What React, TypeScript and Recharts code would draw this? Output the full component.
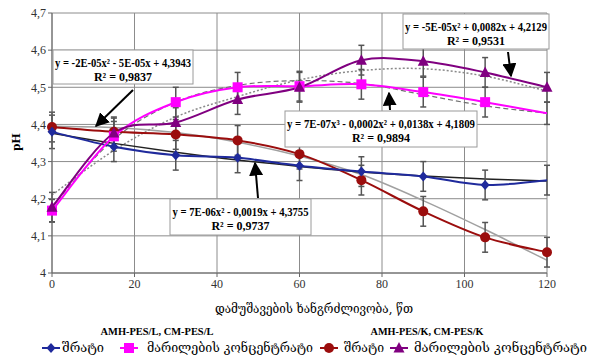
import React from "react"
import { LineChart, Line, XAxis, YAxis, CartesianGrid, ErrorBar } from "recharts"

// minutes of treatment
const MINUTES = [0, 15, 30, 45, 60, 75, 90, 105, 120]

// AMH-PES/L, CM-PES/L
const SYR_L = [4.38, 4.34, 4.317, 4.31, 4.289, 4.273, 4.26, 4.237, 4.25]
const CONC_L = [4.168, 4.368, 4.46, 4.5, 4.503, 4.508, 4.487, 4.46, 4.43]
// AMH-PES/K, CM-PES/K
const SYR_K = [4.393, 4.38, 4.373, 4.357, 4.32, 4.25, 4.166, 4.096, 4.056]
const CONC_K = [4.177, 4.377, 4.405, 4.467, 4.5, 4.573, 4.57, 4.54, 4.5]

// error bar half-lengths
const ERR_SYR_L = [0.045, 0.04, 0.04, 0.04, 0.04, 0.04, 0.04, 0.04, 0.04]
const ERR_CONC_L = [0.03, 0.04, 0.04, 0.04, 0.04, 0.04, 0.04, 0.04, 0.03]
const ERR_SYR_K = [0.04, 0.04, 0.04, 0.04, 0.04, 0.04, 0.04, 0.04, 0.04]
const ERR_CONC_K = [0.04, 0.04, 0.04, 0.04, 0.04, 0.04, 0.04, 0.04, 0.04]

// trend lines
const TREND_SYR_L = [4.376, 4.349, 4.325, 4.304, 4.287, 4.272, 4.261, 4.253, 4.248]
const TREND_SYR_K = [4.395, 4.392, 4.378, 4.352, 4.315, 4.265, 4.195, 4.117, 4.034]
const TREND_CONC_L = [4.18, 4.36, 4.46, 4.505, 4.518, 4.51, 4.48, 4.45, 4.43]
const TREND_CONC_K = [4.21, 4.33, 4.42, 4.475, 4.52, 4.545, 4.55, 4.53, 4.49]

const X_TICKS = [0, 20, 40, 60, 80, 100, 120]
const Y_TICKS = [4, 4.1, 4.2, 4.3, 4.4, 4.5, 4.6, 4.7]

const BLUE = "#1f2a9c"
const PINK = "#ff00ff"
const RED = "#9b0d0d"
const PURPLE = "#800080"

const rows = MINUTES.map((x, i) => ({
  x,
  syrL: SYR_L[i], concL: CONC_L[i], syrK: SYR_K[i], concK: CONC_K[i],
  eSyrL: ERR_SYR_L[i], eConcL: ERR_CONC_L[i], eSyrK: ERR_SYR_K[i], eConcK: ERR_CONC_K[i],
  tSyrL: TREND_SYR_L[i], tSyrK: TREND_SYR_K[i], tConcL: TREND_CONC_L[i], tConcK: TREND_CONC_K[i],
}))

// excel-like smoothed line (catmull-rom as bezier)
function smooth(ctx: any) {
  let pts: number[][] = []
  return {
    areaStart() {},
    areaEnd() {},
    lineStart() { pts = [] },
    point(x: number, y: number) { pts.push([+x, +y]) },
    lineEnd() {
      if (!pts.length) return
      ctx.moveTo(pts[0][0], pts[0][1])
      for (let i = 0; i < pts.length - 1; i++) {
        const p0 = pts[Math.max(i - 1, 0)]
        const p1 = pts[i]
        const p2 = pts[i + 1]
        const p3 = pts[Math.min(i + 2, pts.length - 1)]
        ctx.bezierCurveTo(
          p1[0] + (p2[0] - p0[0]) / 6, p1[1] + (p2[1] - p0[1]) / 6,
          p2[0] - (p3[0] - p1[0]) / 6, p2[1] - (p3[1] - p1[1]) / 6,
          p2[0], p2[1]
        )
      }
    },
  }
}

const serif = "'Liberation Serif', 'Times New Roman', serif"
const geo = "'DejaVu Serif', 'DejaVu Sans', serif"

function Marker({ kind, cx, cy }: any) {
  if (kind === "diamond")
    return <path d={`M${cx},${cy - 5}L${cx + 4.5},${cy}L${cx},${cy + 5}L${cx - 4.5},${cy}Z`} fill={BLUE} />
  if (kind === "square")
    return <rect x={cx - 5} y={cy - 5} width={10} height={10} fill={PINK} />
  if (kind === "circle")
    return <circle cx={cx} cy={cy} r={5} fill={RED} />
  return <path d={`M${cx},${cy - 6}L${cx + 5.5},${cy + 4.5}L${cx - 5.5},${cy + 4.5}Z`} fill={PURPLE} />
}

const dot = (kind: string, skipLast: boolean) => (p: any) => {
  if (skipLast && p.payload.x === 120) return <g key={p.index} />
  return <Marker key={p.index} kind={kind} cx={p.cx} cy={p.cy} />
}

const fmt = (v: number) => String(Math.round(v * 10) / 10).replace(".", ",")

function EqBox({ x, y, w, h, l1, l2, tl }: any) {
  const cx = x + w / 2
  return (
    <g>
      <rect x={x} y={y} width={w} height={h} fill="#fff" stroke="#9a9a9a" />
      <text x={cx} y={y + 17} textAnchor="middle" fontFamily={serif} fontWeight="bold" fontSize={12}
        textLength={tl} lengthAdjust="spacingAndGlyphs">{l1}</text>
      <text x={cx} y={y + 31} textAnchor="middle" fontFamily={serif} fontWeight="bold" fontSize={12}>{l2}</text>
    </g>
  )
}

function LegendIcon({ x, color, kind }: any) {
  return (
    <g>
      <line x1={x - 9} x2={x + 9} y1={348} y2={348} stroke={color} strokeWidth={2} />
      <Marker kind={kind} cx={x} cy={348} />
    </g>
  )
}

export default function App() {
  return (
    <div style={{ position: "absolute", left: 0, top: 0, width: 590, height: 360, background: "#fff" }}>
      <LineChart width={590} height={360} data={rows} margin={{ top: 13, right: 43, left: 0, bottom: 62 }}>
        <CartesianGrid stroke="#8c8c8c" />
        <XAxis dataKey="x" type="number" domain={[0, 120]} ticks={X_TICKS} height={25}
          tick={{ fontFamily: serif, fontSize: 12, fill: "#333" }} stroke="#666" tickSize={4} />
        <YAxis type="number" domain={[4, 4.7]} ticks={Y_TICKS} width={52} tickFormatter={fmt}
          tick={{ fontFamily: serif, fontSize: 12, fill: "#333" }} stroke="#666" tickSize={4} />

        <Line dataKey="tSyrK" type={smooth as any} stroke="#a0a0a0" strokeWidth={1.5} dot={false} isAnimationActive={false} />
        <Line dataKey="tConcL" type={smooth as any} stroke="#707070" strokeWidth={1.2} strokeDasharray="5 3" dot={false} isAnimationActive={false} />
        <Line dataKey="tConcK" type={smooth as any} stroke="#8a8a8a" strokeWidth={1.5} strokeDasharray="2 2" dot={false} isAnimationActive={false} />
        <Line dataKey="tSyrL" type={smooth as any} stroke="#222" strokeWidth={1.5} dot={false} isAnimationActive={false} />

        <Line dataKey="syrK" type={smooth as any} stroke={RED} strokeWidth={2} dot={dot("circle", false)} isAnimationActive={false}>
          <ErrorBar dataKey="eSyrK" direction="y" width={3} stroke="#555" />
        </Line>
        <Line dataKey="syrL" type={smooth as any} stroke={BLUE} strokeWidth={2} dot={dot("diamond", true)} isAnimationActive={false}>
          <ErrorBar dataKey="eSyrL" direction="y" width={3} stroke="#555" />
        </Line>
        <Line dataKey="concL" type={smooth as any} stroke={PINK} strokeWidth={2} dot={dot("square", true)} isAnimationActive={false}>
          <ErrorBar dataKey="eConcL" direction="y" width={3} stroke="#555" />
        </Line>
        <Line dataKey="concK" type={smooth as any} stroke={PURPLE} strokeWidth={2} dot={dot("triangle", false)} isAnimationActive={false}>
          <ErrorBar dataKey="eConcK" direction="y" width={3} stroke="#555" />
        </Line>
      </LineChart>

      <svg width={590} height={360} style={{ position: "absolute", left: 0, top: 0, pointerEvents: "none" }}>
        <defs>
          <marker id="ah" viewBox="0 0 10 10" refX="9" refY="5" markerWidth="7" markerHeight="7" orient="auto-start-reverse">
            <path d="M0,0L10,5L0,10Z" fill="#000" />
          </marker>
        </defs>

        <EqBox x={53} y={50} w={140} h={34} tl={136} l1="y = -2E-05x² - 5E-05x + 4,3943" l2="R² = 0,9837" />
        <EqBox x={403} y={14} w={146} h={35} tl={142} l1="y = -5E-05x² + 0,0082x + 4,2129" l2="R² = 0,9531" />
        <EqBox x={285} y={111} w={192} h={36} tl={188} l1="y = 7E-07x³ - 0,0002x² + 0,0138x + 4,1809" l2="R² = 0,9894" />
        <EqBox x={170} y={199} w={141} h={36} tl={136} l1="y = 7E-06x² - 0,0019x + 4,3755" l2="R² = 0,9737" />

        <line x1={133} y1={90} x2={96} y2={126} stroke="#000" strokeWidth={2} markerEnd="url(#ah)" />
        <line x1={508} y1={52} x2={511} y2={76} stroke="#000" strokeWidth={2} markerEnd="url(#ah)" />
        <line x1={390} y1={110} x2={389} y2={93} stroke="#000" strokeWidth={2} markerEnd="url(#ah)" />
        <line x1={258} y1={198} x2={255} y2={163} stroke="#000" strokeWidth={2} markerEnd="url(#ah)" />

        <text x={15} y={142} transform="rotate(-90 15 142)" textAnchor="middle" dominantBaseline="central"
          fontFamily={serif} fontWeight="bold" fontSize={13}>pH</text>

        <text x={314} y={313} textAnchor="middle" fontFamily={geo} fontSize={13} textLength={198}
          lengthAdjust="spacingAndGlyphs">დამუშავების ხანგრძლივობა, წთ</text>

        <text x={157} y={335} textAnchor="middle" fontFamily={serif} fontWeight="bold" fontSize={11}
          textLength={113} lengthAdjust="spacingAndGlyphs">AMH-PES/L, CM-PES/L</text>
        <text x={427} y={335} textAnchor="middle" fontFamily={serif} fontWeight="bold" fontSize={11}
          textLength={113} lengthAdjust="spacingAndGlyphs">AMH-PES/K, CM-PES/K</text>

        <LegendIcon x={51} color={BLUE} kind="diamond" />
        <text x={62} y={352} fontFamily={geo} fontSize={13} textLength={42} lengthAdjust="spacingAndGlyphs">შრატი</text>
        <LegendIcon x={129} color={PINK} kind="square" />
        <text x={147} y={352} fontFamily={geo} fontSize={13} textLength={166} lengthAdjust="spacingAndGlyphs">მარილების კონცენტრატი</text>
        <LegendIcon x={329} color={RED} kind="circle" />
        <text x={344} y={352} fontFamily={geo} fontSize={13} textLength={40} lengthAdjust="spacingAndGlyphs">შრატი</text>
        <LegendIcon x={399} color={PURPLE} kind="triangle" />
        <text x={414} y={352} fontFamily={geo} fontSize={13} textLength={173} lengthAdjust="spacingAndGlyphs">მარილების კონცენტრატი</text>
      </svg>
    </div>
  )
}
